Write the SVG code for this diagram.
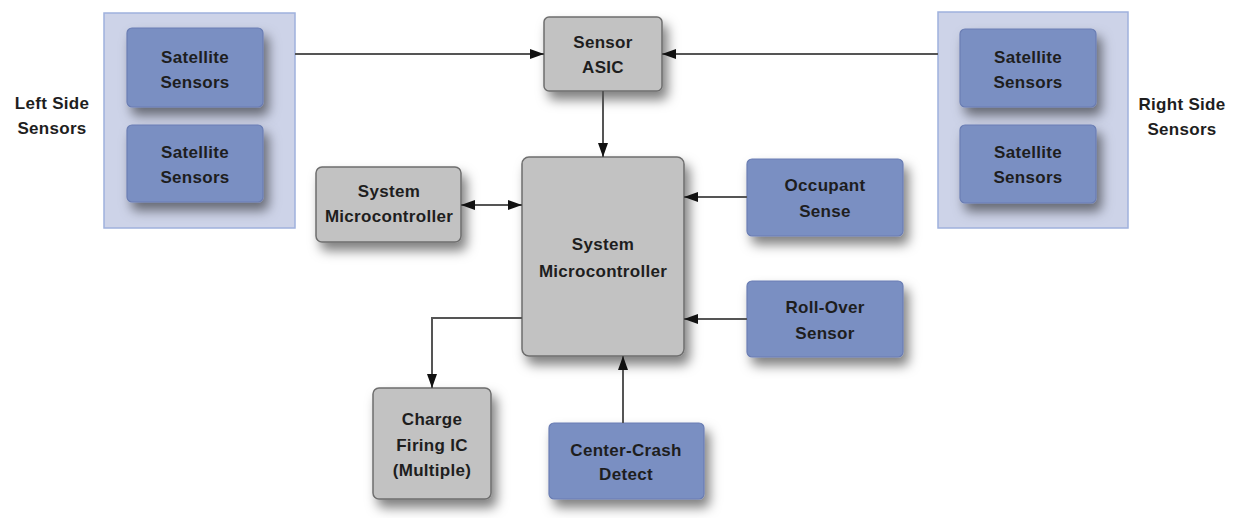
<svg xmlns="http://www.w3.org/2000/svg" width="1241" height="518" viewBox="0 0 1241 518">
<style>
  .t { font-family: "Liberation Sans", Arial, sans-serif; font-weight: bold; font-size: 17px; fill: #1e1e1e; text-anchor: middle; letter-spacing: 0.3px; }
  .grp { fill: #cdd3e8; stroke: #9fb1dd; stroke-width: 1.5; }
  .blue { fill: #7a8fc2; stroke: #6a7db3; stroke-width: 1.2; filter: url(#sh); }
  .gray { fill: #c2c2c2; stroke: #6e6e6e; stroke-width: 1.5; filter: url(#sh); }
  .c { fill: none; stroke: #555555; stroke-width: 2; }
</style>
<defs>
  <filter id="sh" x="-25%" y="-25%" width="160%" height="160%">
    <feDropShadow dx="5" dy="8" stdDeviation="6" flood-color="#000" flood-opacity="0.5"/>
  </filter>
  <marker id="ah" viewBox="0 0 14 10" refX="14" refY="5" markerWidth="14" markerHeight="10" markerUnits="userSpaceOnUse" orient="auto-start-reverse">
    <path d="M0,0 L14,5 L0,10 Z" fill="#111"/>
  </marker>
</defs>
<rect width="1241" height="518" fill="#ffffff"/>

<g id="left-sensors">
  <rect class="grp" x="104" y="13" width="191" height="215"/>
  <text class="t" x="52" y="109">Left Side</text>
  <text class="t" x="52" y="134">Sensors</text>
</g>
<g id="left-sat1">
  <rect class="blue" x="127" y="28" width="136" height="79" rx="5"/>
  <text class="t" x="195" y="63">Satellite</text>
  <text class="t" x="195" y="88">Sensors</text>
</g>
<g id="left-sat2">
  <rect class="blue" x="127" y="125" width="136" height="77" rx="5"/>
  <text class="t" x="195" y="158">Satellite</text>
  <text class="t" x="195" y="183">Sensors</text>
</g>

<g id="right-sensors">
  <rect class="grp" x="938" y="12" width="190" height="216"/>
  <text class="t" x="1182" y="110">Right Side</text>
  <text class="t" x="1182" y="135">Sensors</text>
</g>
<g id="right-sat1">
  <rect class="blue" x="960" y="29" width="136" height="78" rx="5"/>
  <text class="t" x="1028" y="63">Satellite</text>
  <text class="t" x="1028" y="88">Sensors</text>
</g>
<g id="right-sat2">
  <rect class="blue" x="960" y="125" width="136" height="78" rx="5"/>
  <text class="t" x="1028" y="158">Satellite</text>
  <text class="t" x="1028" y="183">Sensors</text>
</g>

<g id="sensor-asic">
  <rect class="gray" x="544" y="17" width="118" height="74" rx="5"/>
  <text class="t" x="603" y="48">Sensor</text>
  <text class="t" x="603" y="73">ASIC</text>
</g>

<g id="system-micro-small">
  <rect class="gray" x="316" y="167" width="145" height="75" rx="6"/>
  <text class="t" x="389" y="197">System</text>
  <text class="t" x="389" y="222">Microcontroller</text>
</g>

<g id="system-micro-main">
  <rect class="gray" x="522" y="157" width="162" height="199" rx="7"/>
  <text class="t" x="603" y="250">System</text>
  <text class="t" x="603" y="277">Microcontroller</text>
</g>

<g id="occupant-sense">
  <rect class="blue" x="747" y="159" width="156" height="77" rx="5"/>
  <text class="t" x="825" y="191">Occupant</text>
  <text class="t" x="825" y="217">Sense</text>
</g>

<g id="roll-over">
  <rect class="blue" x="747" y="281" width="156" height="76" rx="5"/>
  <text class="t" x="825" y="313">Roll-Over</text>
  <text class="t" x="825" y="339">Sensor</text>
</g>

<g id="charge-firing">
  <rect class="gray" x="373" y="388" width="118" height="111" rx="6"/>
  <text class="t" x="432" y="425">Charge</text>
  <text class="t" x="432" y="451">Firing IC</text>
  <text class="t" x="432" y="476">(Multiple)</text>
</g>

<g id="center-crash">
  <rect class="blue" x="549" y="423" width="155" height="76" rx="5"/>
  <text class="t" x="626" y="456">Center-Crash</text>
  <text class="t" x="626" y="480">Detect</text>
</g>

<g id="connectors">
  <line class="c" x1="295" y1="54" x2="544" y2="54" marker-end="url(#ah)"/>
  <line class="c" x1="938" y1="54" x2="662" y2="54" marker-end="url(#ah)"/>
  <line class="c" x1="603" y1="91" x2="603" y2="157" marker-end="url(#ah)"/>
  <line class="c" x1="461" y1="205" x2="522" y2="205" marker-start="url(#ah)" marker-end="url(#ah)"/>
  <line class="c" x1="747" y1="197" x2="684" y2="197" marker-end="url(#ah)"/>
  <line class="c" x1="747" y1="319" x2="684" y2="319" marker-end="url(#ah)"/>
  <polyline class="c" points="522,318 432,318 432,388" marker-end="url(#ah)"/>
  <line class="c" x1="623" y1="423" x2="623" y2="356" marker-end="url(#ah)"/>
</g>
</svg>
